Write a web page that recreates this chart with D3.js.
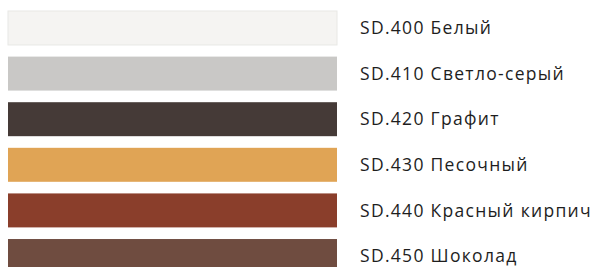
<!DOCTYPE html>
<html>
<head>
<meta charset="utf-8">
<script src="https://cdn.jsdelivr.net/npm/d3@7"></script>
<style>
  body { margin: 0; background: #fff; }
  svg { display: block; }
</style>
</head>
<body>
<div id="chart"></div>
<script>
var codes = ["SD.400", "SD.410", "SD.420", "SD.430", "SD.440", "SD.450"];
var names = ["Белый", "Светло-серый", "Графит", "Песочный", "Красный кирпич", "Шоколад"];
var colors = ["#f5f4f2", "#c9c8c6", "#453a37", "#e0a455", "#8a3e2b", "#6f4c40"];

var width = 594, height = 267;

var svg = d3.select("#chart").append("svg")
  .attr("width", width)
  .attr("height", height);

// swatch rows, pitch ~45.6px
var y = d3.scaleBand()
  .domain(codes)
  .range([11 - 5.8, 11 - 5.8 + 45.6 * 6])
  .paddingInner(0.255)
  .paddingOuter(0.127);

var x = d3.scaleLinear().domain([0, 1]).range([8, 337]);

svg.selectAll("rect.swatch")
  .data(codes)
  .enter().append("rect")
  .attr("class", "swatch")
  .attr("x", x(0))
  .attr("y", function(d) { return y(d); })
  .attr("width", x(1) - x(0))
  .attr("height", y.bandwidth())
  .style("fill", function(d, i) { return colors[i]; })
  .style("stroke", function(d, i) { return i == 0 ? "#e8e8e5" : "none"; })
  .style("stroke-width", 1);

svg.selectAll("text.label")
  .data(codes)
  .enter().append("text")
  .attr("class", "label")
  .attr("x", 360)
  .attr("y", function(d) { return y(d) + y.bandwidth() / 2; })
  .attr("dy", "0.36em")
  .style("font-family", "'Open Sans', sans-serif")
  .style("font-size", "17.5px")
  .style("letter-spacing", "1.3px")
  .style("fill", "#1e1e1e")
  .text(function(d, i) { return d + " " + names[i]; });
</script>
</body>
</html>
